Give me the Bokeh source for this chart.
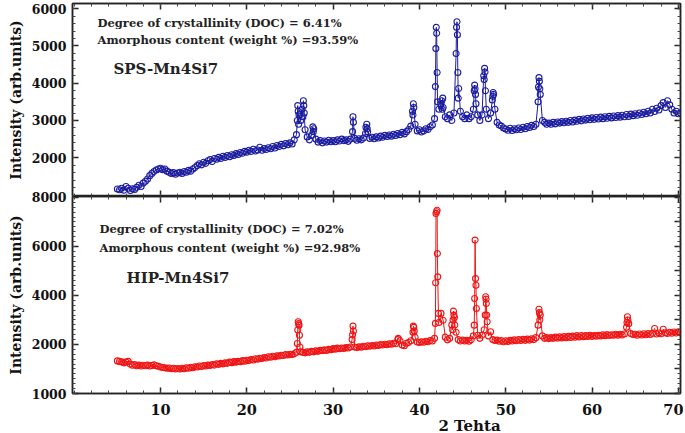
import numpy as np
from bokeh.plotting import figure
from bokeh.models import Range1d, LinearAxis, FixedTicker, Label
from bokeh.core.properties import value
from bokeh.layouts import column
from bokeh.embed import file_html
from bokeh.resources import INLINE

FONT = "DejaVu Serif"
BLUE = "#1c1ca0"
RED = "#f01414"

# ---------------- data ----------------
x_start = 5.0
x_step = 0.25

# SPS-Mn4Si7 baseline (every 0.25 deg from 5.0 to 70.25)
sps_base = [
    1160, 1140, 1180, 1130, 1230, 1180, 1120, 1170, 1150, 1210, 1260, 1230, 1320, 1370, 1430, 1520, 1580, 1630, 1670, 1700,
    1720, 1680, 1700, 1640, 1610, 1580, 1600, 1560, 1590, 1610, 1580, 1630, 1610, 1660, 1640, 1700, 1740, 1790, 1840, 1810,
    1880, 1850, 1920, 1950, 1900, 1980, 1960, 2010, 1980, 2040, 2010, 2060, 2030, 2080, 2060, 2110, 2090, 2140, 2120, 2170,
    2150, 2200, 2170, 2230, 2180, 2210, 2280, 2200, 2250, 2220, 2270, 2240, 2300, 2260, 2330, 2300, 2360, 2320, 2380, 2350,
    2400, 2370, 2480, 2620, 2900, 3000, 3100, 2750, 2560, 2480, 2600, 2780, 2500, 2420, 2460, 2400, 2450, 2420, 2470, 2430,
    2460, 2430, 2480, 2450, 2500, 2460, 2480, 2440, 2500, 2700, 2520, 2470, 2510, 2480, 2530, 2650, 2700, 2520, 2550, 2510,
    2560, 2530, 2580, 2550, 2600, 2570, 2610, 2580, 2630, 2600, 2650, 2620, 2680, 2640, 2700, 2760, 2850, 3150, 2900, 2720,
    2750, 2690, 2720, 2780, 2760, 2830, 2880, 3050, 5340, 3300, 3450, 3350, 3100, 3050, 3150, 3000, 3200, 4800, 3600, 3250,
    3100, 3050, 3150, 3050, 3100, 3300, 3700, 3150, 3000, 3150, 4100, 3300, 3050, 3200, 3650, 3300, 2950, 2880, 2850, 2800,
    2770, 2740, 2790, 2730, 2780, 2750, 2800, 2760, 2820, 2780, 2840, 2810, 2870, 2840, 2900, 3500, 3700, 3000, 2950, 2900,
    2930, 2900, 2950, 2910, 2960, 2930, 2970, 2940, 2980, 2950, 3000, 2960, 3010, 2980, 3030, 2990, 3040, 3010, 3060, 3020,
    3070, 3030, 3080, 3040, 3090, 3050, 3100, 3060, 3110, 3070, 3120, 3080, 3130, 3090, 3140, 3100, 3160, 3110, 3170, 3130,
    3180, 3140, 3200, 3160, 3220, 3180, 3250, 3200, 3300, 3240, 3330, 3280, 3400, 3480, 3350, 3530, 3420, 3300, 3200, 3250,
    3180, 3200,
]
# SPS-Mn4Si7 extra points inside the diffraction peaks
sps_peak_x = [25.85, 25.90, 25.95, 26.05, 26.40, 26.55, 26.60, 26.65, 27.65, 27.70,
              32.30, 32.35, 33.80, 33.90, 33.95, 39.20, 39.30, 39.35,
              41.85, 41.90, 41.95, 42.05, 42.10, 42.60, 42.65, 42.70,
              44.30, 44.35, 44.40, 44.45, 44.55,
              46.35, 46.40, 46.45, 46.55, 47.45, 47.55, 47.60, 47.65,
              48.45, 48.55, 48.60, 53.80, 53.85, 53.90, 53.95]
sps_peak_y = [3000, 3400, 3250, 3150, 3300, 3530, 3400, 3200, 2830, 2700,
              3100, 2950, 2820, 2900, 2780, 3250, 3450, 3350,
              3910, 4930, 5500, 4290, 3500, 3530, 3300, 3600,
              5500, 5650, 5300, 4290, 3860,
              3800, 3950, 3850, 3450, 4200, 4400, 4300, 3800,
              3550, 3750, 3700, 3900, 4150, 4050, 3850]

# HIP-Mn4Si7 baseline (every 0.25 deg from 5.0 to 70.25)
hip_base = [
    1330, 1310, 1290, 1250, 1280, 1310, 1200, 1150, 1180, 1130, 1160, 1120, 1150, 1130, 1160, 1120, 1140, 1170, 1130, 1110,
    1080, 1060, 1050, 1030, 1040, 1010, 1030, 1000, 1020, 1000, 1030, 1010, 1050, 1030, 1070, 1050, 1090, 1080, 1120, 1100,
    1140, 1120, 1160, 1140, 1180, 1160, 1210, 1190, 1230, 1210, 1250, 1230, 1280, 1260, 1300, 1280, 1310, 1300, 1340, 1320,
    1360, 1350, 1390, 1370, 1420, 1400, 1440, 1430, 1470, 1450, 1500, 1480, 1520, 1500, 1540, 1530, 1560, 1550, 1590, 1570,
    1600, 1590, 1620, 1680, 2850, 1700, 1680, 1660, 1700, 1680, 1720, 1700, 1740, 1720, 1760, 1750, 1780, 1760, 1800, 1790,
    1830, 1810, 1850, 1830, 1860, 1840, 1880, 1860, 1900, 2400, 1900, 1880, 1910, 1890, 1930, 1910, 1950, 1930, 1960, 1940,
    1980, 1960, 2000, 1980, 2010, 1990, 2030, 2010, 2050, 2030, 2200, 2150, 1980, 1950, 2050, 2080, 2150, 2500, 2300, 2100,
    2080, 2110, 2090, 2130, 2110, 2160, 2140, 2250, 7420, 2900, 3270, 2990, 2300, 2190, 2250, 2800, 3200, 2500, 2200, 2140,
    2180, 2140, 2170, 2130, 2190, 2350, 4690, 2380, 2250, 2380, 2600, 3670, 2350, 2520, 2200, 2160, 2180, 2130, 2160, 2110,
    2150, 2120, 2170, 2140, 2190, 2150, 2200, 2160, 2210, 2170, 2220, 2180, 2230, 2200, 2280, 2790, 3200, 2350, 2250, 2280,
    2240, 2280, 2250, 2300, 2260, 2310, 2270, 2320, 2280, 2330, 2290, 2340, 2300, 2360, 2310, 2370, 2320, 2360, 2330, 2380,
    2330, 2370, 2340, 2380, 2350, 2400, 2360, 2410, 2370, 2400, 2380, 2420, 2380, 2420, 2390, 2430, 2700, 2850, 2450, 2410,
    2420, 2380, 2430, 2390, 2440, 2400, 2450, 2410, 2460, 2650, 2430, 2470, 2440, 2620, 2480, 2450, 2500, 2460, 2510, 2470,
    2520, 2480,
]
# HIP-Mn4Si7 extra points inside the diffraction peaks
hip_peak_x = [25.85, 25.90, 25.95, 26.05, 26.10, 26.15,
              32.20, 32.30, 32.35, 37.55, 39.30, 39.35, 39.40,
              41.85, 41.88, 41.92, 42.05, 42.08, 42.12, 42.20,
              43.85, 43.90, 43.95, 44.05, 44.10,
              46.35, 46.40, 46.45, 46.55, 46.60,
              47.62, 47.68, 47.72, 47.80, 47.85,
              53.85, 53.90, 53.95, 64.05, 64.10, 64.15]
hip_peak_y = [2040, 2590, 2930, 2790, 2380, 1900,
              2200, 2750, 2550, 2250, 2750, 2700, 2550,
              2860, 4520, 7350, 7480, 5710, 4760, 3270,
              2600, 3000, 3360, 3100, 2800,
              2790, 3880, 6260, 4420, 3470,
              3200, 3950, 3850, 3200, 2930,
              3440, 3300, 3000, 2900, 3130, 3000]

sps_text = ["Degree of crystallinity (DOC) = 6.41%", "Amorphous content (weight %) =93.59%", "SPS-Mn4Si7"]
hip_text = ["Degree of crystallinity (DOC) = 7.02%", "Amorphous content (weight %) =92.98%", "HIP-Mn4Si7"]
x_title = "2 Tehta"
y_title = "Intensity (arb.units)"

x_major = [10, 20, 30, 40, 50, 60, 70]
x_minor = list(range(0, 72, 2))
top_major = [2000, 3000, 4000, 5000, 6000]
top_minor = list(range(1000, 6200, 200))
bot_major_left = [0, 2000, 4000, 6000, 8000]
bot_left_labels = {0: "1000", 2000: "2000", 4000: "4000", 6000: "6000", 8000: "8000"}
bot_major_right = list(range(0, 9000, 1000))
bot_minor = list(range(0, 8200, 200))


def merge(base, px, py):
    bx = x_start + x_step * np.arange(len(base))
    xs = np.concatenate([bx, np.asarray(px, float)])
    ys = np.concatenate([np.asarray(base, float), np.asarray(py, float)])
    o = np.argsort(xs, kind="stable")
    return xs[o], ys[o]


def add_axis(p, side, major, minor, show_labels=False, overrides=None, label_size="12.5px",
             standoff=6, axis_label=None):
    ax = LinearAxis(ticker=FixedTicker(ticks=major, minor_ticks=minor))
    ax.major_tick_in = 6
    ax.major_tick_out = 0
    ax.minor_tick_in = 3
    ax.minor_tick_out = 0
    ax.axis_line_color = "#222222"
    ax.axis_line_width = 1.5
    ax.major_tick_line_color = "#222222"
    ax.minor_tick_line_color = "#444444"
    ax.major_tick_line_width = 1.5
    if show_labels:
        ax.major_label_text_font = FONT
        ax.major_label_text_font_style = "bold"
        ax.major_label_text_font_size = label_size
        ax.major_label_text_color = "#111111"
        ax.major_label_standoff = standoff
        if overrides:
            ax.major_label_overrides = overrides
    else:
        ax.major_label_text_font_size = "0px"
        ax.major_label_standoff = 0
        ax.major_label_overrides = {t: "" for t in major}
    if axis_label:
        ax.axis_label = axis_label
        ax.axis_label_text_font = FONT
        ax.axis_label_text_font_style = "bold"
        ax.axis_label_text_font_size = "14px"
        ax.axis_label_text_color = "#111111"
        ax.axis_label_standoff = 5
    p.add_layout(ax, side)
    return ax


def make_fig(height, yr, top_border, bottom_border, margin):
    p = figure(width=683, height=height, x_range=Range1d(-0.2, 70.25), y_range=Range1d(*yr),
               output_backend="svg", toolbar_location=None,
               x_axis_location=None, y_axis_location=None,
               min_border_left=72, min_border_right=3,
               min_border_top=top_border, min_border_bottom=bottom_border,
               margin=margin)
    p.grid.visible = False
    p.outline_line_color = "#222222"
    p.outline_line_width = 1.5
    return p


def add_texts(p, texts, xs, ys, sizes):
    for t, x, y, s in zip(texts, xs, ys, sizes):
        p.add_layout(Label(x=x, y=y, text=t, text_font=FONT, text_font_style="bold",
                           text_font_size=s, text_color="#222222", text_baseline="alphabetic"))


# ---------------- top panel ----------------
top = make_fig(196, (960, 6140), 3, 0, (0, 0, 0, 0))
add_axis(top, "left", top_major, top_minor, show_labels=True, axis_label=y_title)
add_axis(top, "right", top_major + [1000], top_minor)
add_axis(top, "above", x_major, x_minor)
add_axis(top, "below", x_major, x_minor)
sx, sy = merge(sps_base, sps_peak_x, sps_peak_y)
top.line(sx, sy, line_color=BLUE, line_width=1)
top.scatter(sx, sy, marker="circle", size=6, fill_color=None, line_color=BLUE, line_width=1.1)
add_texts(top, sps_text, [2.7, 2.7, 4.55], [5630, 5147, 4369], ["11.5px", "11.5px", "15px"])

# ---------------- bottom panel ----------------
bot = make_fig(233, (0, 8040), 8, 28, (-8, 0, 0, 0))
bot.background_fill_alpha = 0
bot.border_fill_alpha = 0
add_axis(bot, "left", bot_major_left, bot_minor, show_labels=True, overrides=bot_left_labels,
         axis_label=y_title)
add_axis(bot, "right", bot_major_right, bot_minor)
add_axis(bot, "above", x_major, x_minor)
add_axis(bot, "below", x_major, x_minor, show_labels=True, label_size="14.5px", standoff=10)
hx, hy = merge(hip_base, hip_peak_x, hip_peak_y)
bot.line(hx, hy, line_color=RED, line_width=1)
bot.scatter(hx, hy, marker="circle", size=6, fill_color=None, line_color=RED, line_width=1.1)
add_texts(bot, hip_text, [2.93, 2.93, 6.06], [6733, 5956, 4730], ["11.5px", "11.5px", "15px"])

# ---------------- x title strip (transparent, overlaps the bottom border) ----------------
xt = figure(width=683, height=40, x_range=bot.x_range, y_range=Range1d(0, 1),
            output_backend="svg", toolbar_location=None,
            x_axis_location=None, y_axis_location=None,
            min_border_left=72, min_border_right=3, min_border_top=0, min_border_bottom=0,
            margin=(-28, 0, 0, 0))
xt.grid.visible = False
xt.outline_line_color = None
xt.background_fill_alpha = 0
xt.border_fill_alpha = 0
xt.text(x=[42.2], y=[0.2], text=[x_title], text_font=value(FONT), text_font_style="bold",
        text_font_size="15px", text_color="#111111", text_baseline="middle")

layout = column(top, bot, xt, spacing=0)
open("out.html", "w").write(file_html(layout, INLINE))
